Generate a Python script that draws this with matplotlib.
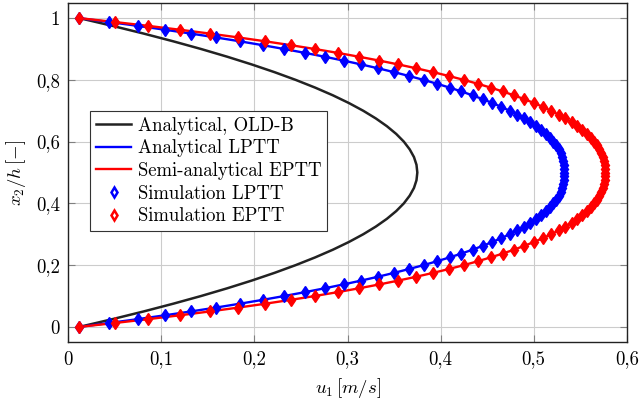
import matplotlib
matplotlib.use("Agg")
import matplotlib.pyplot as plt
from matplotlib.ticker import FuncFormatter
import numpy as np

# wall-normal position x2/h (simulation grid, 81 points)
x2_sim = np.linspace(0, 1, 81)

# velocity u1 [m/s]
u_lptt = [0.0120, 0.0439, 0.0745, 0.1038, 0.1318, 0.1586, 0.1843, 0.2088, 0.2321, 0.2543,
          0.2755, 0.2957, 0.3148, 0.3329, 0.3501, 0.3663, 0.3817, 0.3961, 0.4097, 0.4224,
          0.4343, 0.4454, 0.4557, 0.4653, 0.4742, 0.4823, 0.4897, 0.4965, 0.5026, 0.5081,
          0.5130, 0.5172, 0.5209, 0.5241, 0.5267, 0.5289, 0.5305, 0.5317, 0.5325, 0.5329,
          0.5330,
          0.5329, 0.5325, 0.5317, 0.5305, 0.5289, 0.5267, 0.5241, 0.5209, 0.5172, 0.5130,
          0.5081, 0.5026, 0.4965, 0.4897, 0.4823, 0.4742, 0.4653, 0.4557, 0.4454, 0.4343,
          0.4224, 0.4097, 0.3961, 0.3817, 0.3663, 0.3501, 0.3329, 0.3148, 0.2957, 0.2755,
          0.2543, 0.2321, 0.2088, 0.1843, 0.1586, 0.1318, 0.1038, 0.0745, 0.0439, 0.0120]

u_eptt = [0.0120, 0.0499, 0.0858, 0.1198, 0.1521, 0.1827, 0.2116, 0.2390, 0.2649, 0.2894,
          0.3124, 0.3342, 0.3547, 0.3740, 0.3921, 0.4091, 0.4250, 0.4399, 0.4538, 0.4668,
          0.4788, 0.4900, 0.5004, 0.5100, 0.5188, 0.5268, 0.5342, 0.5409, 0.5469, 0.5523,
          0.5571, 0.5613, 0.5649, 0.5681, 0.5707, 0.5728, 0.5744, 0.5757, 0.5765, 0.5769,
          0.5770,
          0.5769, 0.5765, 0.5757, 0.5744, 0.5728, 0.5707, 0.5681, 0.5649, 0.5613, 0.5571,
          0.5523, 0.5469, 0.5409, 0.5342, 0.5268, 0.5188, 0.5100, 0.5004, 0.4900, 0.4788,
          0.4668, 0.4538, 0.4399, 0.4250, 0.4091, 0.3921, 0.3740, 0.3547, 0.3342, 0.3124,
          0.2894, 0.2649, 0.2390, 0.2116, 0.1827, 0.1521, 0.1198, 0.0858, 0.0499, 0.0120]

# Oldroyd-B analytical profile
x2_oldb = np.linspace(0, 1, 41)
u_oldb = [0.0120, 0.0474, 0.0810, 0.1127, 0.1427, 0.1708, 0.1971, 0.2216, 0.2443, 0.2652,
          0.2843, 0.3015, 0.3169, 0.3305, 0.3423, 0.3523, 0.3605, 0.3668, 0.3714, 0.3741,
          0.3750,
          0.3741, 0.3714, 0.3668, 0.3605, 0.3523, 0.3423, 0.3305, 0.3169, 0.3015, 0.2843,
          0.2652, 0.2443, 0.2216, 0.1971, 0.1708, 0.1427, 0.1127, 0.0810, 0.0474, 0.0120]

plt.rcParams["font.family"] = ["cmr10", "DejaVu Serif"]
plt.rcParams["mathtext.fontset"] = "cm"
plt.rcParams["axes.formatter.use_mathtext"] = True
plt.rcParams["font.size"] = 13.5

fig = plt.figure(figsize=(6.39, 4.05), dpi=100)
ax = fig.add_axes([0.1069, 0.1548, 0.8739, 0.8385])

ax.plot(u_oldb, x2_oldb, color="#222222", lw=1.8, label="Analytical, OLD-B")
ax.plot(u_lptt, x2_sim, color="blue", lw=1.7, label="Analytical LPTT")
ax.plot(u_eptt, x2_sim, color="red", lw=1.7, label="Semi-analytical EPTT")
ax.plot(u_lptt, x2_sim, ls="none", marker="d", ms=6.5, mfc="blue", mec="blue",
        mew=1.0, label="Simulation LPTT")
ax.plot(u_eptt, x2_sim, ls="none", marker="d", ms=6.5, mfc="red", mec="red",
        mew=1.0, label="Simulation EPTT")

ax.set_xlim(0, 0.6)
ax.set_ylim(-0.05, 1.05)
ax.set_xticks(np.arange(0, 0.61, 0.1))
ax.set_yticks(np.arange(0, 1.01, 0.2))
comma = FuncFormatter(lambda v, p: ("%g" % round(v, 3)).replace(".", ","))
ax.xaxis.set_major_formatter(comma)
ax.yaxis.set_major_formatter(comma)

ax.grid(True, color="#cccccc", lw=0.8)
ax.set_axisbelow(True)
ax.tick_params(direction="in", top=True, right=True, length=5, width=0.8,
               color="#808080", labelsize=13.5, pad=6)
for s in ax.spines.values():
    s.set_color("#222222")
    s.set_linewidth(1.0)

ax.set_xlabel(r"$u_1\,[m/s]$", fontsize=13.5, labelpad=5)
ax.set_ylabel(r"$x_2/h\,[-]$", fontsize=13.5, labelpad=6)

leg = ax.legend(loc="upper left", bbox_to_anchor=(0.039, 0.681), borderaxespad=0,
                fancybox=False, framealpha=1, edgecolor="#333333", fontsize=13.5,
                handlelength=1.9, handletextpad=0.35, labelspacing=0.25, borderpad=0.3)
leg.get_frame().set_linewidth(0.8)
for h in leg.legend_handles[3:]:
    h.set_markerfacecolor("white")
    h.set_markeredgewidth(1.8)
    h.set_markersize(5)

fig.savefig("out.png", dpi=100)
